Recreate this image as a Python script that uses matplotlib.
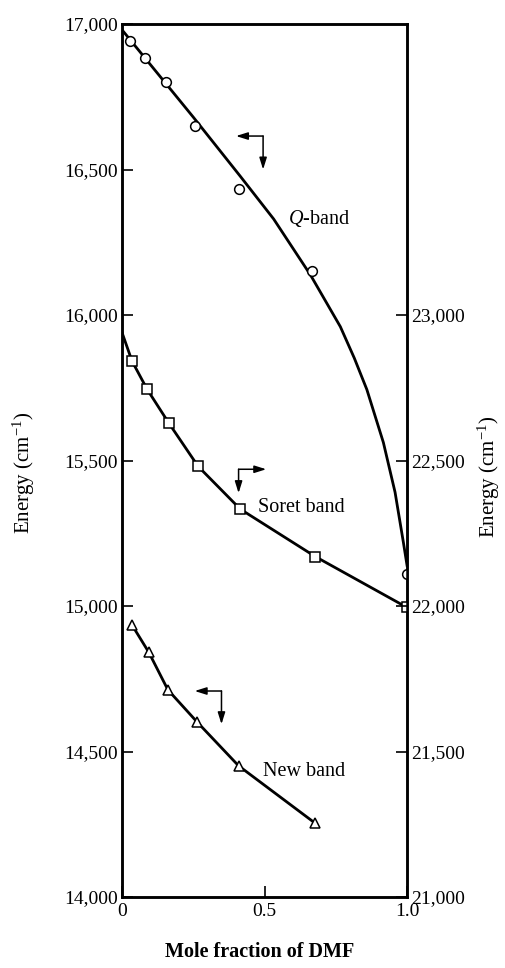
import matplotlib
matplotlib.use("Agg")
import matplotlib.pyplot as plt

plt.rcParams['font.family'] = ['Liberation Serif', 'DejaVu Serif']
plt.rcParams['mathtext.fontset'] = 'custom'
plt.rcParams['mathtext.rm'] = 'Liberation Serif'
plt.rcParams['mathtext.it'] = 'Liberation Serif:italic'

# Q-band (left axis), circles
q_x = [0.029, 0.082, 0.154, 0.255, 0.412, 0.668, 1.0]
q_y = [16941, 16884, 16801, 16649, 16433, 16150, 15110]
# fitted Q-band curve
q_curve_x = [0, 0.25, 0.414, 0.532, 0.661, 0.766, 0.815, 0.859, 0.917, 0.958, 0.987, 1.0]
q_curve_y = [16980, 16680, 16478, 16330, 16138, 15960, 15852, 15744, 15562, 15391, 15220, 15140]

# Soret band (right axis, shown in left-axis units), squares
soret_x = [0.035, 0.088, 0.164, 0.267, 0.415, 0.678, 1.0]
soret_y = [15842, 15745, 15629, 15480, 15333, 15170, 14995]
soret_start = (0, 15940)

# New band (left axis), triangles
new_x = [0.035, 0.094, 0.161, 0.263, 0.409, 0.676]
new_y = [14935, 14841, 14712, 14602, 14451, 14255]

left_ticks = [14000, 14500, 15000, 15500, 16000, 16500, 17000]
right_ticks = [21000, 21500, 22000, 22500, 23000]
x_ticks = [0, 0.5, 1.0]
x_ticklabels = ['0', '0.5', '1.0']
offset = 7000  # right axis = left axis + 7000

fig = plt.figure(figsize=(5.05, 9.68), dpi=100)
ax = fig.add_axes([0.2416, 0.0733, 0.5644, 0.9019])
ax2 = ax.twinx()

lw = 2.0
ax.plot(q_curve_x, q_curve_y, color='black', lw=lw, zorder=2, solid_joinstyle='round')
ax.plot(q_x, q_y, linestyle='none', marker='o', ms=7, mfc='white', mec='black', mew=1.1, zorder=3)

ax.plot([soret_start[0]] + soret_x, [soret_start[1]] + soret_y, color='black', lw=lw, zorder=2,
        solid_joinstyle='round')
ax.plot(soret_x, soret_y, linestyle='none', marker='s', ms=6.5, mfc='white', mec='black', mew=1.1, zorder=3)

ax.plot(new_x, new_y, color='black', lw=lw, zorder=2, solid_joinstyle='round')
ax.plot(new_x, new_y, linestyle='none', marker='^', ms=7, mfc='white', mec='black', mew=1.1, zorder=3)

ax.set_xlim(0, 1.0)
ax.set_ylim(14000, 17000)
ax2.set_ylim(14000 + offset, 17000 + offset)

ax.set_xticks(x_ticks)
ax.set_xticklabels(x_ticklabels)
ax.set_yticks(left_ticks)
ax.set_yticklabels([f'{v:,}' for v in left_ticks])
ax2.set_yticks(right_ticks)
ax2.set_yticklabels([f'{v:,}' for v in right_ticks])

for a in (ax, ax2):
    a.tick_params(direction='in', length=8, width=1.2, labelsize=14, pad=3)
    for s in a.spines.values():
        s.set_linewidth(1.8)
ax.tick_params(axis='x', pad=4)

# annotations
fs_txt = 14.5
ax.text(0.584, 16331, '$Q$-band', fontsize=fs_txt, ha='left', va='center')
ax.text(0.478, 15340, 'Soret band', fontsize=fs_txt, ha='left', va='center')
ax.text(0.494, 14430, 'New band', fontsize=fs_txt, ha='left', va='center')


def axis_arrow(corner, tip_h, tip_v):
    props = dict(arrowstyle='-|>,head_length=0.7,head_width=0.22', color='black',
                 lw=1.1, shrinkA=0, shrinkB=0)
    ax.annotate('', xy=tip_h, xytext=corner, arrowprops=props)
    ax.annotate('', xy=tip_v, xytext=corner, arrowprops=props)


axis_arrow((0.495, 16615), (0.40, 16615), (0.495, 16500))
axis_arrow((0.409, 15470), (0.506, 15470), (0.409, 15388))
axis_arrow((0.349, 14708), (0.255, 14708), (0.349, 14594))

fig.text(0.047, 0.511, 'Energy (cm$^{-1}$)', rotation=90, fontsize=15, ha='center', va='center')
fig.text(0.968, 0.507, 'Energy (cm$^{-1}$)', rotation=90, fontsize=15, ha='center', va='center')
fig.text(0.515, 0.0165, 'Mole fraction of DMF', fontsize=14.5, fontweight='bold', ha='center', va='center')

fig.savefig('out.png', dpi=100)
